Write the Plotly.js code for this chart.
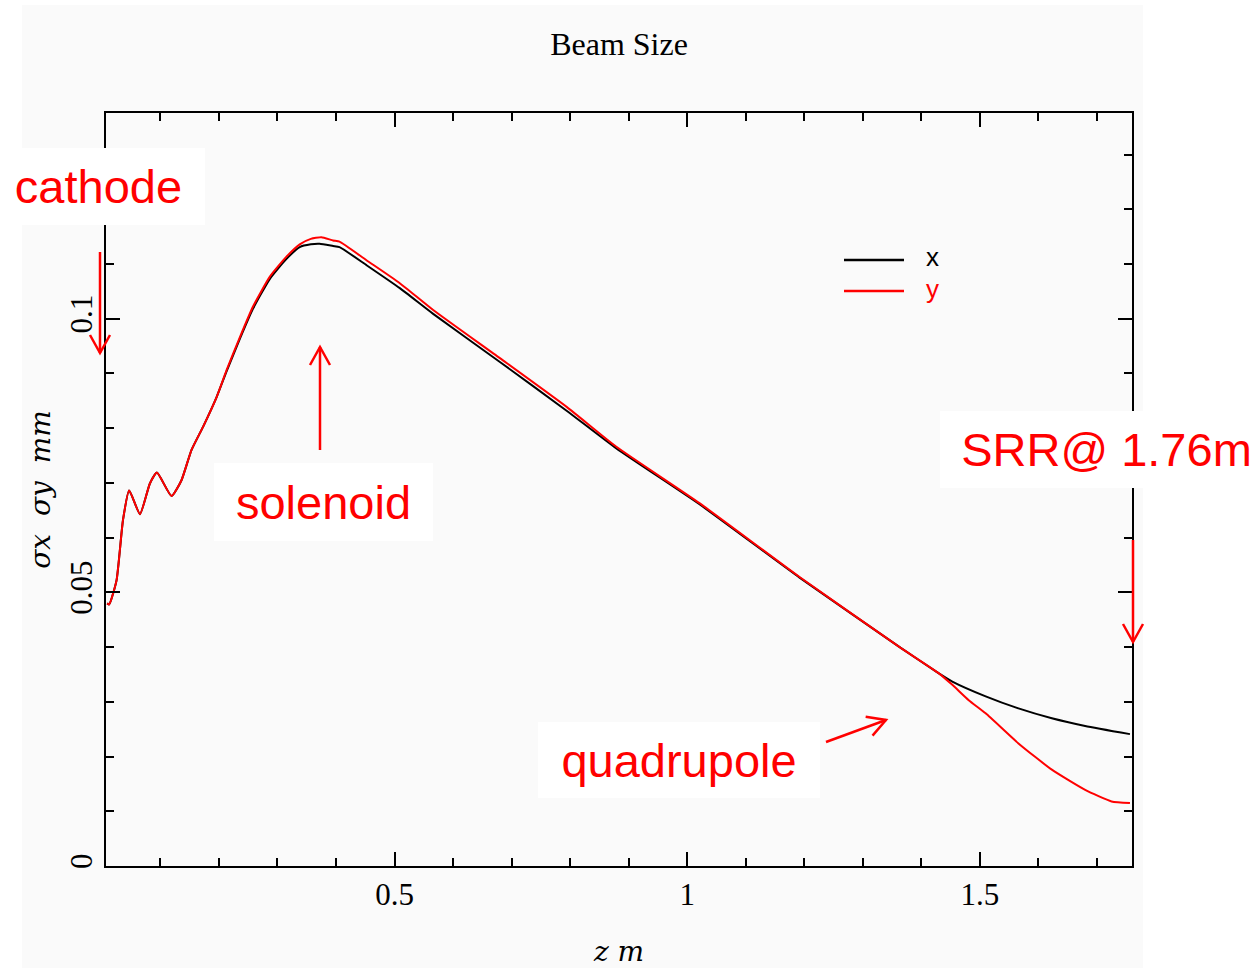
<!DOCTYPE html>
<html>
<head>
<meta charset="utf-8">
<script src="https://cdn.plot.ly/plotly-3.0.1.min.js"></script>
<style>
  html, body { margin: 0; padding: 0; background: #ffffff; }
  #chart { width: 1260px; height: 968px; }
</style>
</head>
<body>
<div id="chart"></div>
<script>
// Beam envelope along the beamline: RMS size in x and y (mm) versus z (m)
const zX = [0.009, 0.0125, 0.025, 0.036, 0.0466, 0.065, 0.082, 0.094, 0.119, 0.136, 0.153, 0.173,
            0.196, 0.213, 0.236, 0.258, 0.287, 0.315, 0.338, 0.357, 0.372, 0.395, 0.406, 0.452,
            0.509, 0.566, 0.68, 0.794, 0.879, 1.021, 1.192, 1.363, 1.43, 1.453, 1.51, 1.566,
            1.623, 1.68, 1.7565];
const sigmaX = [0.0480, 0.0478, 0.0522, 0.0632, 0.0686, 0.0643, 0.0699, 0.0719, 0.0676, 0.0705, 0.0760, 0.0803,
                0.0857, 0.0904, 0.0964, 0.1018, 0.1073, 0.1109, 0.1131, 0.1136, 0.1137, 0.1133, 0.1131, 0.1098,
                0.1056, 0.1009, 0.0921, 0.0832, 0.0763, 0.0661, 0.0527, 0.0400, 0.0352, 0.0337, 0.0310, 0.0288,
                0.0270, 0.0256, 0.0241];

const zY = [0.009, 0.0125, 0.025, 0.036, 0.0466, 0.065, 0.082, 0.094, 0.119, 0.136, 0.153, 0.173,
            0.196, 0.213, 0.236, 0.258, 0.287, 0.315, 0.338, 0.357, 0.375, 0.395, 0.406, 0.452,
            0.509, 0.566, 0.68, 0.794, 0.879, 1.021, 1.192, 1.363, 1.43, 1.453, 1.481, 1.51,
            1.566, 1.623, 1.68, 1.725, 1.7565];
const sigmaY = [0.0480, 0.0478, 0.0522, 0.0632, 0.0686, 0.0643, 0.0699, 0.0719, 0.0676, 0.0705, 0.0760, 0.0803,
                0.0857, 0.0906, 0.0967, 0.1022, 0.1077, 0.1113, 0.1136, 0.1146, 0.1149, 0.1143, 0.1141, 0.1107,
                0.1065, 0.1016, 0.0928, 0.0839, 0.0766, 0.0663, 0.0528, 0.0400, 0.0352, 0.0331, 0.0303, 0.0279,
                0.0224, 0.0176, 0.0139, 0.0118, 0.0115];

const xTickVals = [0.5, 1, 1.5];
const xTickText = ['0.5', '1', '1.5'];
const yTickVals = [0, 0.05, 0.1];
const yTickText = ['0', '0.05', '0.1'];

const seriesNames = ['x', 'y'];
const seriesColors = ['#000000', '#ff0000'];

// Page geometry (pixels)
const W = 1260, H = 968;
const M = { l: 106, r: 128, t: 113, b: 102 };
const PW = W - M.l - M.r;
const PH = H - M.t - M.b;
const px = x => (x - M.l) / PW;          // pixel x -> paper x
const py = y => (H - M.b - y) / PH;      // pixel y -> paper y

const RED = '#ff0000';
const labelFont = { family: 'Liberation Sans, Arial, Helvetica, sans-serif', size: 47, color: RED };
const serif = 'Liberation Serif, Times New Roman, serif';

// Open "V" arrow drawn as a shaft plus a two-stroke head
function arrow(x0, y0, x1, y1) {
  const dx = x1 - x0, dy = y1 - y0, len = Math.hypot(dx, dy);
  const ux = dx / len, uy = dy / len;
  const bx = x1 - 18 * ux, by = y1 - 18 * uy;
  const nx = -uy * 10, ny = ux * 10;
  const style = { color: RED, width: 2.5 };
  return [
    { type: 'line', xref: 'paper', yref: 'paper', x0: px(x0), y0: py(y0), x1: px(x1), y1: py(y1), line: style },
    { type: 'path', xref: 'paper', yref: 'paper',
      path: `M ${px(bx + nx)},${py(by + ny)} L ${px(x1)},${py(y1)} L ${px(bx - nx)},${py(by - ny)}`,
      line: style }
  ];
}

// White label box with red text
function label(text, x0, y0, x1, y1) {
  return {
    text: text, xref: 'paper', yref: 'paper', x: px(x0), y: py(y0),
    xanchor: 'left', yanchor: 'top', width: x1 - x0, height: y1 - y0,
    align: 'center', valign: 'middle', showarrow: false,
    bgcolor: '#ffffff', borderpad: 0, borderwidth: 0, font: labelFont
  };
}

const traces = [
  { x: zX, y: sigmaX, mode: 'lines', name: seriesNames[0], showlegend: false,
    line: { color: seriesColors[0], width: 2, shape: 'spline', smoothing: 0.5 } },
  { x: zY, y: sigmaY, mode: 'lines', name: seriesNames[1], showlegend: false,
    line: { color: seriesColors[1], width: 2, shape: 'spline', smoothing: 0.5 } }
];

const shapes = [
  // light grey page panel behind the plot
  { type: 'rect', layer: 'below', xref: 'paper', yref: 'paper',
    x0: px(22), x1: px(1143), y0: py(968), y1: py(5),
    fillcolor: '#fafafa', line: { width: 0 } },
  // legend sample lines
  { type: 'line', xref: 'paper', yref: 'paper', x0: px(844), x1: px(904), y0: py(260), y1: py(260),
    line: { color: seriesColors[0], width: 2.5 } },
  { type: 'line', xref: 'paper', yref: 'paper', x0: px(844), x1: px(904), y0: py(291), y1: py(291),
    line: { color: seriesColors[1], width: 2.5 } },
  ...arrow(100, 252, 100, 353),
  ...arrow(320, 450, 320, 347),
  ...arrow(1133, 540, 1133, 642),
  ...arrow(826, 742, 886, 720)
];

const annotations = [
  label('cathode', -8, 148, 205, 225),
  label('solenoid', 214, 463, 433, 541),
  label('quadrupole', 538, 722, 820, 798),
  label('SRR@ 1.76m', 940, 411, 1273, 488),
  { text: seriesNames[0], xref: 'paper', yref: 'paper', x: px(924), y: py(257), xanchor: 'left', yanchor: 'middle',
    showarrow: false, font: { family: labelFont.family, size: 26, color: seriesColors[0] } },
  { text: seriesNames[1], xref: 'paper', yref: 'paper', x: px(924), y: py(289), xanchor: 'left', yanchor: 'middle',
    showarrow: false, font: { family: labelFont.family, size: 26, color: seriesColors[1] } }
];

const axisCommon = {
  showline: true, linecolor: '#000', linewidth: 2, mirror: 'allticks',
  ticks: 'inside', ticklen: 14, tickwidth: 2, tickcolor: '#000',
  showgrid: false, zeroline: false, automargin: false,
  tickfont: { family: serif, size: 31, color: '#000' }
};

const layout = {
  width: W, height: H,
  margin: M,
  paper_bgcolor: '#ffffff',
  plot_bgcolor: 'rgba(0,0,0,0)',
  showlegend: false,
  title: {
    text: 'Beam Size', font: { family: serif, size: 32, color: '#000' },
    x: 0.5, xref: 'paper', xanchor: 'center', y: 1 - 44 / H, yref: 'container', yanchor: 'middle'
  },
  xaxis: Object.assign({}, axisCommon, {
    range: [0.007, 1.76],
    tickvals: xTickVals, ticktext: xTickText,
    minor: { dtick: 0.1, tick0: 0, ticks: 'inside', ticklen: 8, tickwidth: 2, tickcolor: '#000' },
    title: { text: '<i>z\u00a0m</i>', standoff: 35,
             font: { family: 'DejaVu Serif, serif', size: 28, color: '#000' } }
  }),
  yaxis: Object.assign({}, axisCommon, {
    range: [0, 0.1376],
    tickvals: yTickVals, ticktext: yTickText, tickangle: -90,
    minor: { dtick: 0.01, tick0: 0, ticks: 'inside', ticklen: 8, tickwidth: 2, tickcolor: '#000' },
    title: { text: '<i>\u03c3x\u00a0\u00a0\u03c3y\u00a0\u00a0mm</i>', standoff: 5,
             font: { family: 'DejaVu Serif, serif', size: 28, color: '#000' } }
  }),
  shapes: shapes,
  annotations: annotations
};

Plotly.newPlot('chart', traces, layout, { displayModeBar: false, staticPlot: true });
</script>
</body>
</html>
